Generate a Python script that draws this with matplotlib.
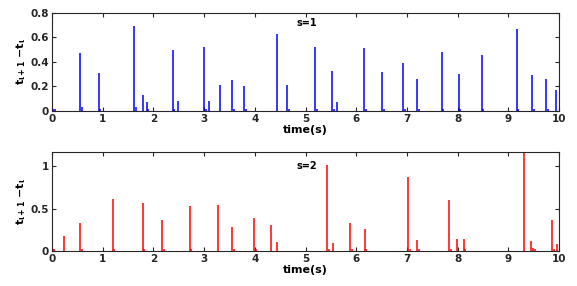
import matplotlib
matplotlib.use("Agg")
import matplotlib.pyplot as plt

# s=1 series (time of spike, interval height)
t1 = [0.02, 0.06, 0.556, 0.59, 0.92, 0.95, 1.62, 1.66, 1.79, 1.87, 1.90, 2.38, 2.41, 2.48,
      3.00, 3.03, 3.10, 3.31, 3.56, 3.59, 3.79, 3.82, 4.43, 4.64, 4.67, 5.19, 5.22, 5.53,
      5.56, 5.62, 6.16, 6.20, 6.51, 6.54, 6.92, 6.96, 7.20, 7.23, 7.69, 7.72, 8.02, 8.05,
      8.47, 8.50, 9.16, 9.19, 9.47, 9.50, 9.75, 9.78, 9.93]
h1 = [0.02, 0.02, 0.47, 0.03, 0.31, 0.02, 0.69, 0.03, 0.13, 0.07, 0.02, 0.50, 0.02, 0.08,
      0.52, 0.02, 0.08, 0.21, 0.25, 0.02, 0.20, 0.02, 0.63, 0.21, 0.02, 0.52, 0.02, 0.33,
      0.02, 0.07, 0.51, 0.02, 0.32, 0.02, 0.39, 0.02, 0.26, 0.02, 0.48, 0.02, 0.30, 0.02,
      0.46, 0.02, 0.67, 0.02, 0.29, 0.02, 0.26, 0.02, 0.17]

# s=2 series
t2 = [0.02, 0.05, 0.23, 0.556, 0.59, 1.20, 1.23, 1.79, 1.82, 2.17, 2.20, 2.72, 2.75, 3.27,
      3.55, 3.59, 3.99, 4.02, 4.32, 4.43, 5.43, 5.46, 5.55, 5.88, 5.91, 6.17, 6.20, 7.03,
      7.06, 7.19, 7.23, 7.83, 7.86, 7.98, 8.12, 8.15, 9.30, 9.44, 9.49, 9.52, 9.86, 9.89, 9.96]
h2 = [0.02, 0.02, 0.18, 0.33, 0.03, 0.61, 0.02, 0.57, 0.02, 0.37, 0.02, 0.53, 0.02, 0.54,
      0.28, 0.03, 0.39, 0.02, 0.31, 0.11, 1.01, 0.02, 0.10, 0.33, 0.02, 0.26, 0.02, 0.87,
      0.02, 0.13, 0.03, 0.60, 0.02, 0.14, 0.14, 0.02, 1.20, 0.12, 0.04, 0.03, 0.36, 0.02, 0.08]

xticks = list(range(0, 11))
yticks1 = [0, 0.2, 0.4, 0.6, 0.8]
yticklabels1 = ["0", "0.2", "0.4", "0.6", "0.8"]
yticks2 = [0, 0.5, 1]
yticklabels2 = ["0", "0.5", "1"]

fig = plt.figure(figsize=(5.77, 2.86), dpi=100)
ax1 = fig.add_axes([0.090, 0.612, 0.879, 0.343])
ax2 = fig.add_axes([0.090, 0.122, 0.879, 0.345])

ylabel = r'$\mathbf{t_{\iota+1}}$ $\mathbf{-t_{\iota}}$'

def style(ax, yticks, yticklabels, ylim):
    ax.set_xlim(0, 10)
    ax.set_ylim(*ylim)
    ax.set_xticks(xticks)
    ax.set_xticklabels([str(v) for v in xticks], fontweight='bold', fontsize=7.5)
    ax.set_yticks(yticks)
    ax.set_yticklabels(yticklabels, fontweight='bold', fontsize=7.5)
    ax.tick_params(direction='in', top=True, right=True, length=3, width=0.8, pad=2,
                   colors='#262626')
    for s in ax.spines.values():
        s.set_linewidth(0.8)
        s.set_color('#262626')
    ax.set_xlabel('time(s)', fontweight='bold', fontsize=8, labelpad=1)
    ax.set_ylabel(ylabel, fontsize=8, labelpad=2)

style(ax1, yticks1, yticklabels1, (0, 0.8))
style(ax2, yticks2, yticklabels2, (0, 1.16))

ax1.vlines(t1, 0, h1, colors='#0000ff', linewidth=1.1)
ax2.vlines(t2, 0, h2, colors='#ff0000', linewidth=1.1)

ax1.text(0.482, 0.9, 's=1', transform=ax1.transAxes, fontsize=7, fontweight='bold',
         ha='left', va='center')
ax2.text(0.482, 0.86, 's=2', transform=ax2.transAxes, fontsize=7, fontweight='bold',
         ha='left', va='center')

fig.savefig('out.png', dpi=100)
